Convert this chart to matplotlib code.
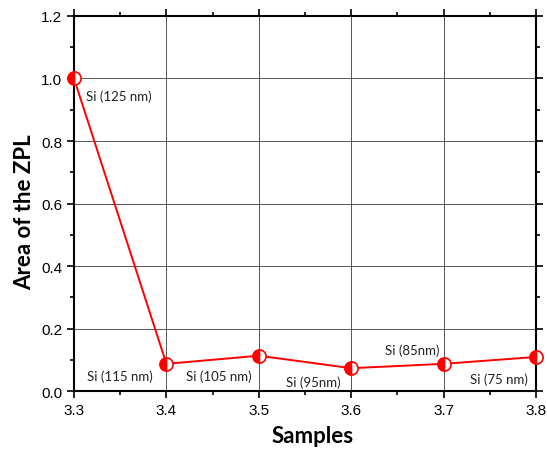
import numpy as np
import matplotlib.pyplot as plt

plt.rcParams['font.family'] = ['Liberation Sans', 'DejaVu Sans']

# sample positions and ZPL area
samples = [3.3, 3.4, 3.5, 3.6, 3.7, 3.8]
zpl_area = [1.0, 0.087, 0.113, 0.073, 0.087, 0.109]
point_labels = ['Si (125 nm)', 'Si (115 nm)', 'Si (105 nm)', 'Si (95nm)', 'Si (85nm)', 'Si (75 nm)']
label_pos = [(3.348, 0.944), (3.350, 0.049), (3.457, 0.049), (3.559, 0.030), (3.666, 0.132), (3.760, 0.038)]

fig = plt.figure(figsize=(5.47, 4.52), dpi=100)
ax = fig.add_axes([0.1353, 0.1327, 0.8447, 0.8297])

ax.plot(samples, zpl_area, color='red', linewidth=1.4, marker='o', markersize=9.5,
        fillstyle='left', markerfacecolor='red', markerfacecoloralt='white',
        markeredgecolor='red', markeredgewidth=1.2, zorder=3, clip_on=False)

for txt, (tx, ty) in zip(point_labels, label_pos):
    ax.text(tx, ty, txt, ha='center', va='center', fontsize=9.5, family='Lato', color='#222222')

ax.set_xlim(3.3, 3.8)
ax.set_ylim(0, 1.2)
ax.set_xticks(np.arange(3.3, 3.81, 0.1))
ax.set_xticks(np.arange(3.35, 3.8, 0.1), minor=True)
ax.set_yticks(np.arange(0, 1.21, 0.2))
ax.set_yticks(np.arange(0.1, 1.2, 0.2), minor=True)
ax.set_xticklabels(['%.1f' % v for v in np.arange(3.3, 3.81, 0.1)])
ax.set_yticklabels(['%.1f' % v for v in np.arange(0, 1.21, 0.2)])
ax.grid(True, which='major', color='#555555', linewidth=0.7)
ax.tick_params(which='both', direction='out', top=True, right=True, labelsize=11,
               width=1.2, colors='black')
ax.tick_params(which='major', length=5)
ax.tick_params(which='minor', length=3)
for sp in ax.spines.values():
    sp.set_linewidth(1.5)

ax.set_xlabel('Samples', fontsize=16, fontweight='bold', family='Lato', labelpad=6)
ax.set_ylabel('Area of the ZPL', fontsize=16, fontweight='bold', family='Lato', labelpad=4)
ax.xaxis.label.set_x(0.517)
ax.yaxis.label.set_y(0.48)

fig.savefig('out.png', dpi=100)
